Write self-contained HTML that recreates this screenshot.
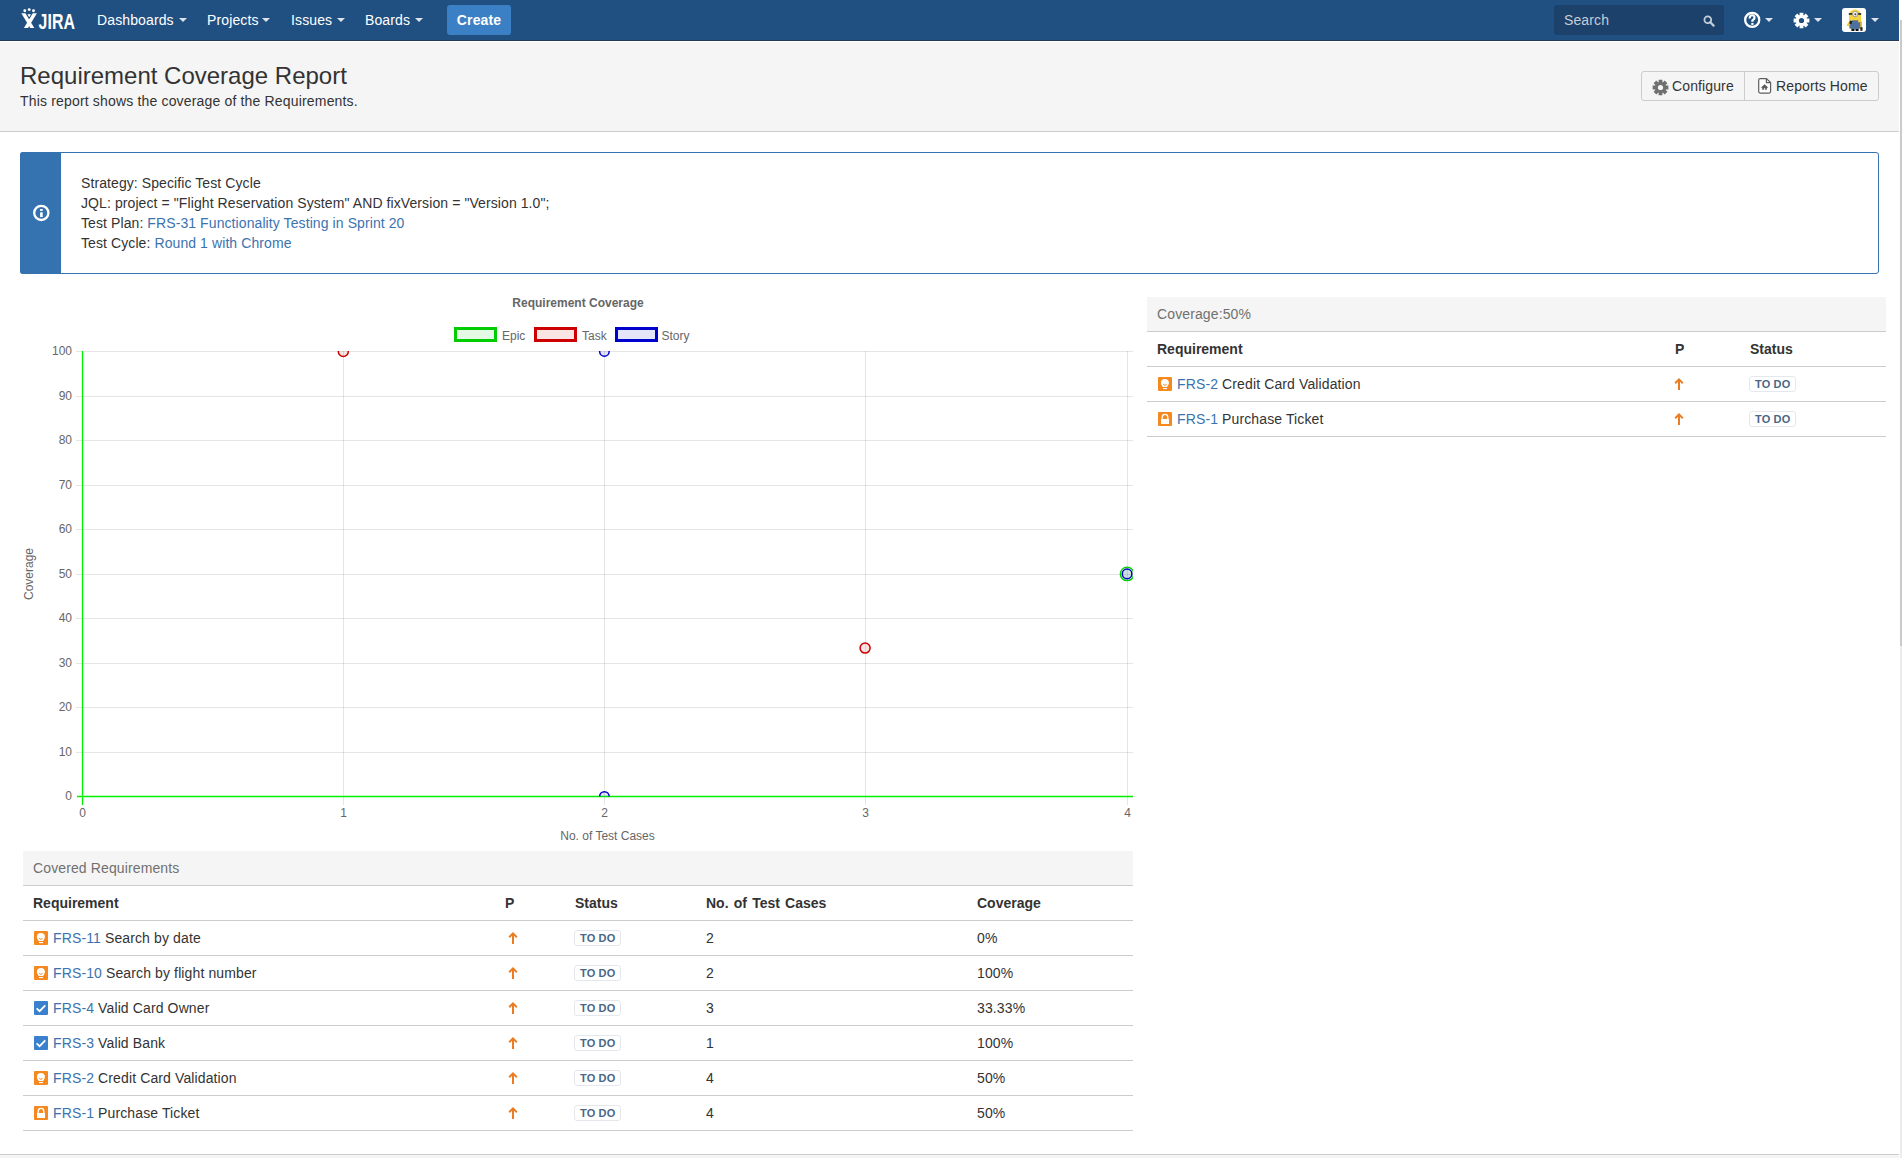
<!DOCTYPE html>
<html><head><meta charset="utf-8"><title>Requirement Coverage Report</title>
<style>
*{box-sizing:border-box;}
html,body{margin:0;padding:0;}
body{width:1902px;height:1158px;overflow:hidden;position:relative;background:#fff;font-family:"Liberation Sans",sans-serif;font-size:14px;line-height:20px;color:#333;letter-spacing:0.12px;}
.abs{position:absolute;}
a{color:#3b73af;text-decoration:none;}
/* header */
#hdr{left:0;top:0;width:1899px;height:40px;background:#205081;}
#hdrline{left:0;top:40px;width:1899px;height:1px;background:#213754;}
.nav{position:absolute;top:10px;color:#fff;font-size:14px;line-height:20px;white-space:nowrap;}
.caret{position:absolute;top:18px;width:0;height:0;border-left:4px solid transparent;border-right:4px solid transparent;border-top:4px solid #dde3ea;}
#create{left:447px;top:5px;width:64px;height:30px;background:#3b7fc4;border-radius:3px;color:#fff;font-weight:bold;font-size:14px;line-height:30px;text-align:center;}
#search{left:1554px;top:5px;width:170px;height:30px;background:#1c416b;border-radius:3px;}
#search span{position:absolute;left:10px;top:5px;color:#c4cdd8;font-size:14px;line-height:20px;}
/* page header */
#phead{left:0;top:42px;width:1899px;height:89px;background:#f5f5f5;}
#pheadline{left:0;top:131px;width:1899px;height:1px;background:#ccc;}
#title{left:20px;top:61px;letter-spacing:0;font-size:24px;line-height:30px;color:#333;white-space:nowrap;}
#subtitle{left:20px;top:91px;letter-spacing:0.17px;font-size:14px;line-height:20px;color:#333;white-space:nowrap;}
#btns{left:1641px;top:71px;width:238px;height:30px;border:1px solid #ccc;border-radius:3px;background:#f5f5f5;}
#btns .div{position:absolute;left:102px;top:0;width:1px;height:28px;background:#ccc;}
#btns .t{position:absolute;top:4px;font-size:14px;line-height:20px;color:#333;white-space:nowrap;}
/* info message */
#msg{left:20px;top:152px;width:1859px;height:122px;border:1px solid #3572b0;border-radius:3px;background:#fff;}
#msgbar{left:20px;top:152px;width:41px;height:122px;background:#3572b0;border-radius:3px 0 0 3px;}
#msgtext{left:81px;top:173px;letter-spacing:0.09px;font-size:14px;line-height:20px;color:#333;white-space:nowrap;}
/* tables */
.panelhead{position:absolute;background:#f5f5f5;border-bottom:1px solid #ccc;height:35px;padding:7px 10px;color:#707070;font-size:14px;line-height:20px;}
table.t{position:absolute;border-collapse:collapse;table-layout:fixed;}
table.t td,table.t th{padding:7px 10px;border-bottom:1px solid #ccc;text-align:left;vertical-align:top;font-size:14px;line-height:20px;height:34px;white-space:nowrap;}
table.t th{font-weight:bold;color:#333;letter-spacing:0;}
.ii{display:inline-block;width:16px;height:16px;vertical-align:text-bottom;}
.loz{display:inline-block;font-size:11px;font-weight:bold;line-height:11px;padding:2px 5px 1px;border:1px solid #e4e8ed;border-radius:3px;color:#4a6785;letter-spacing:0.15px;margin-top:2px;height:16px;position:relative;top:-1px;left:-1px;}
.pr{display:inline-block;width:16px;height:16px;vertical-align:text-bottom;}
#footer{left:0;top:1154px;width:1899px;height:4px;background:#f5f5f5;border-top:1px solid #ccc;}
#sb{left:1899px;top:0;width:3px;height:1158px;background:#fff;}
#sbthumb{left:1900px;top:20px;width:2px;height:626px;background:#cacaca;}
#sbtrack{left:1900px;top:646px;width:2px;height:512px;background:#ececec;}
</style></head><body>
<!-- symbol defs -->
<svg width="0" height="0" style="position:absolute">
  <defs>
    <symbol id="bulb" viewBox="0 0 16 16">
      <rect x="1" y="1" width="14" height="14" rx="1" fill="#f5891f"/>
      <path d="M7.9 2.9 A4 4 0 0 1 11.9 6.9 C11.9 8.4 10.8 9.3 10.2 10.9 L5.6 10.9 C5 9.3 3.9 8.4 3.9 6.9 A4 4 0 0 1 7.9 2.9 Z" fill="#fff"/>
      <path d="M6.2 8.4 Q7.9 10.3 9.6 8.4" fill="none" stroke="#f5891f" stroke-width="1"/>
      <rect x="6" y="12" width="4" height="1.1" fill="#fff"/>
    </symbol>
    <symbol id="bag" viewBox="0 0 16 16">
      <rect x="1" y="1" width="14" height="14" rx="1" fill="#f5891f"/>
      <path d="M5.2 8 L5.2 6.2 A2.8 2.8 0 0 1 10.8 6.2 L10.8 8" fill="none" stroke="#fff" stroke-width="1.3"/>
      <rect x="4" y="8" width="8" height="5" fill="#fff"/>
    </symbol>
    <symbol id="check" viewBox="0 0 16 16">
      <rect x="1" y="1" width="14" height="14" rx="1" fill="#3b80cc"/>
      <path d="M3.6 8.3 L6.6 11.2 L12.3 5.4" fill="none" stroke="#fff" stroke-width="1.7"/>
    </symbol>
    <symbol id="arrow" viewBox="0 0 16 16">
      <path d="M4.2 7.2 L8 3.4 L11.8 7.2" fill="none" stroke="#ea7d24" stroke-width="2" stroke-linecap="butt" stroke-linejoin="miter"/>
      <path d="M8 3.6 L8 14" stroke="#ea7d24" stroke-width="2"/>
    </symbol>
  </defs>
</svg>


<!-- HEADER -->
<div id="hdr" class="abs"></div>
<div id="hdrline" class="abs"></div>
<svg class="abs" style="left:0;top:0" width="80" height="40" viewBox="0 0 80 40">
  <circle cx="24.8" cy="10.8" r="1.45" fill="#fff"/>
  <circle cx="29.2" cy="9.6" r="1.45" fill="#fff"/>
  <circle cx="33.5" cy="10.8" r="1.45" fill="#fff"/>
  <path d="M21.3 13.2 L25.4 13.2 L34.3 28 L30.3 28 Z" fill="#fff"/>
  <path d="M32.8 13.2 L36.9 13.2 L28 28 L23.9 28 Z" fill="#fff"/>
  <path d="M27.4 14.2 L31 14.2 L29.2 17.3 Z" fill="#fff"/>
  <text x="38.5" y="28.6" font-family="Liberation Sans" font-weight="bold" font-size="22" fill="#fff" textLength="36.5" lengthAdjust="spacingAndGlyphs">JIRA</text>
</svg>
<div class="nav" style="left:97px">Dashboards</div><div class="caret" style="left:179px"></div>
<div class="nav" style="left:207px">Projects</div><div class="caret" style="left:262px"></div>
<div class="nav" style="left:291px">Issues</div><div class="caret" style="left:337px"></div>
<div class="nav" style="left:365px">Boards</div><div class="caret" style="left:415px"></div>
<div id="create" class="abs">Create</div>
<div id="search" class="abs"><span>Search</span>
  <svg style="position:absolute;left:149px;top:10px" width="12" height="12" viewBox="0 0 12 12"><circle cx="4.8" cy="4.8" r="3.4" fill="none" stroke="#c4cdd8" stroke-width="1.8"/><path d="M7.3 7.3 L10.6 10.6" stroke="#c4cdd8" stroke-width="2.2" stroke-linecap="round"/></svg>
</div>
<!-- help -->
<svg class="abs" style="left:1742px;top:10px" width="20" height="20" viewBox="-10.2 -9.9 20 20"><circle cx="0" cy="0" r="7.05" fill="none" stroke="#fff" stroke-width="2.3"/><path d="M-2.3 -1.4 A2.4 2.4 0 1 1 2.0 -1.0 L0.2 0.6 L0.2 1.9" fill="none" stroke="#fff" stroke-width="2.2"/><rect x="-0.9" y="3.0" width="2.2" height="2.0" fill="#fff"/></svg>
<div class="caret" style="left:1765px"></div>
<!-- gear -->
<svg class="abs" style="left:1792px;top:10.5px" width="19" height="19" viewBox="-9.5 -9.5 19 19"><path fill="#fff" fill-rule="evenodd" d="M-1.90 -5.37 L-1.90 -7.87 L1.90 -7.87 L1.90 -5.37 L2.46 -5.14 L4.22 -6.91 L6.91 -4.22 L5.14 -2.46 L5.37 -1.90 L7.87 -1.90 L7.87 1.90 L5.37 1.90 L5.14 2.46 L6.91 4.22 L4.22 6.91 L2.46 5.14 L1.90 5.37 L1.90 7.87 L-1.90 7.87 L-1.90 5.37 L-2.46 5.14 L-4.22 6.91 L-6.91 4.22 L-5.14 2.46 L-5.37 1.90 L-7.87 1.90 L-7.87 -1.90 L-5.37 -1.90 L-5.14 -2.46 L-6.91 -4.22 L-4.22 -6.91 L-2.46 -5.14 Z M2.60 0 A2.60 2.60 0 1 0 -2.60 0 A2.60 2.60 0 1 0 2.60 0 Z"/></svg>
<div class="caret" style="left:1814px"></div>
<!-- avatar -->
<div class="abs" style="left:1842px;top:8px;width:24px;height:24px;background:#fff;border-radius:3px;overflow:hidden">
  <svg width="24" height="24" viewBox="0 0 24 24">
    <path d="M7 21 L7 7.6 A6 6.2 0 0 1 19 7.6 L19 21 Z" fill="#f5d33c"/>
    <path d="M7.6 14.2 L18.6 14.2 L18.6 20 Q13 23.2 7.6 20 Z" fill="#4d709c"/>
    <rect x="9.8" y="12.3" width="6.4" height="2.5" fill="#4d709c"/>
    <rect x="6.8" y="5.1" width="12.4" height="1.7" fill="#2a2a2a"/>
    <circle cx="13.2" cy="6.1" r="3.1" fill="#a9a9a9"/>
    <circle cx="13.2" cy="6.1" r="2" fill="#fff"/>
    <circle cx="13.4" cy="6.3" r="1" fill="#5b3a20"/>
    <path d="M7.2 13.2 L4.6 17.2 L6.2 18.6 L8.6 15.2 Z" fill="#f2c832"/>
    <path d="M8 12.4 L10.4 13.2 L9.4 16.2 L7.2 15.4 Z" fill="#222"/>
    <rect x="18.4" y="13.4" width="1.6" height="6" fill="#e9b92b"/>
    <rect x="18.3" y="19.2" width="2.2" height="3.6" fill="#222"/>
    <rect x="9.4" y="21" width="3" height="2" fill="#111"/>
    <rect x="13.6" y="21" width="3" height="2" fill="#111"/>
  </svg>
</div>
<div class="caret" style="left:1871px"></div>

<!-- PAGE HEADER -->
<div id="phead" class="abs" style="background:#f5f5f5"></div>
<div class="abs" style="left:0;top:41px;width:1899px;height:1px;background:#fff"></div>
<div id="pheadline" class="abs"></div>
<div id="title" class="abs">Requirement Coverage Report</div>
<div id="subtitle" class="abs">This report shows the coverage of the Requirements.</div>
<div id="btns" class="abs">
  <svg style="position:absolute;left:8.5px;top:5.5px" width="19" height="19" viewBox="-9.5 -9.5 19 19"><path fill="#707070" fill-rule="evenodd" d="M-1.90 -5.37 L-1.90 -7.87 L1.90 -7.87 L1.90 -5.37 L2.46 -5.14 L4.22 -6.91 L6.91 -4.22 L5.14 -2.46 L5.37 -1.90 L7.87 -1.90 L7.87 1.90 L5.37 1.90 L5.14 2.46 L6.91 4.22 L4.22 6.91 L2.46 5.14 L1.90 5.37 L1.90 7.87 L-1.90 7.87 L-1.90 5.37 L-2.46 5.14 L-4.22 6.91 L-6.91 4.22 L-5.14 2.46 L-5.37 1.90 L-7.87 1.90 L-7.87 -1.90 L-5.37 -1.90 L-5.14 -2.46 L-6.91 -4.22 L-4.22 -6.91 L-2.46 -5.14 Z M2.60 0 A2.60 2.60 0 1 0 -2.60 0 A2.60 2.60 0 1 0 2.60 0 Z"/></svg>
  <span class="t" style="left:30px">Configure</span>
  <div class="div"></div>
  <svg style="position:absolute;left:115px;top:5px" width="16" height="18" viewBox="0 0 16 18"><path d="M3.2 1.6 L9.4 1.6 L13.6 5.6 L13.6 14.6 Q13.6 16.1 12.1 16.1 L3.2 16.1 Q1.7 16.1 1.7 14.6 L1.7 3.1 Q1.7 1.6 3.2 1.6 Z" fill="#fff" stroke="#5e5e5e" stroke-width="1.2"/><path d="M9.4 1.6 L9.4 5.6 L13.6 5.6" fill="none" stroke="#5e5e5e" stroke-width="1.2"/><path d="M7.6 7.2 L11.4 10.8 L9.9 10.8 L9.9 12.8 L5.2 12.8 L5.2 10.8 L3.8 10.8 Z" fill="#5e5e5e"/><rect x="6.9" y="11.2" width="1.3" height="1.6" fill="#fff"/></svg>
  <span class="t" style="left:134px">Reports Home</span>
</div>

<!-- INFO MESSAGE -->
<div id="msg" class="abs"></div>
<div id="msgbar" class="abs"></div>
<svg class="abs" style="left:31px;top:203px" width="20" height="20" viewBox="-10.3 -9.9 20 20"><circle cx="0" cy="0" r="7.1" fill="none" stroke="#fff" stroke-width="2.3"/><rect x="-1.2" y="-3.9" width="2.6" height="1.9" fill="#fff"/><rect x="-1.2" y="-0.6" width="2.6" height="4.7" fill="#fff"/></svg>
<div id="msgtext" class="abs">Strategy: Specific Test Cycle<br>JQL: project = "Flight Reservation System" AND fixVersion = "Version 1.0";<br>Test Plan: <a>FRS-31 Functionality Testing in Sprint 20</a><br>Test Cycle: <a>Round 1 with Chrome</a></div>

<!-- CHART -->
<svg class="abs" style="left:0;top:285px;letter-spacing:0" width="1140" height="565" viewBox="0 285 1140 565" font-family="Liberation Sans">
  <defs><clipPath id="ca"><rect x="82" y="351" width="1051" height="445.5"/></clipPath></defs>
  <text x="578" y="307" text-anchor="middle" font-size="12" font-weight="bold" fill="#666">Requirement Coverage</text>
  <!-- legend -->
  <rect x="455.5" y="328.5" width="40" height="12" fill="rgba(0,204,0,0.1)" stroke="#00cc00" stroke-width="3"/>
  <text x="502" y="340" font-size="12" fill="#666">Epic</text>
  <rect x="535.5" y="328.5" width="40" height="12" fill="rgba(204,0,0,0.1)" stroke="#cc0000" stroke-width="3"/>
  <text x="582" y="340" font-size="12" fill="#666">Task</text>
  <rect x="616.5" y="328.5" width="40" height="12" fill="rgba(0,0,204,0.1)" stroke="#0000cc" stroke-width="3"/>
  <text x="661.5" y="340" font-size="12" fill="#666">Story</text>
  <g stroke="rgba(0,0,0,0.1)" stroke-width="1" fill="none">
  <line x1="76" x2="1133" y1="752.5" y2="752.5"/>
  <line x1="76" x2="1133" y1="707.5" y2="707.5"/>
  <line x1="76" x2="1133" y1="663.5" y2="663.5"/>
  <line x1="76" x2="1133" y1="618.5" y2="618.5"/>
  <line x1="76" x2="1133" y1="574.5" y2="574.5"/>
  <line x1="76" x2="1133" y1="529.5" y2="529.5"/>
  <line x1="76" x2="1133" y1="485.5" y2="485.5"/>
  <line x1="76" x2="1133" y1="440.5" y2="440.5"/>
  <line x1="76" x2="1133" y1="396.5" y2="396.5"/>
  <line x1="76" x2="1133" y1="351.5" y2="351.5"/>
  <line x1="343.5" x2="343.5" y1="351" y2="805"/>
  <line x1="604.5" x2="604.5" y1="351" y2="805"/>
  <line x1="865.5" x2="865.5" y1="351" y2="805"/>
  <line x1="1127.5" x2="1127.5" y1="351" y2="805"/>
  </g>
  <g font-size="12" fill="#666" text-anchor="end">
  <text x="72" y="800.4">0</text>
  <text x="72" y="755.9">10</text>
  <text x="72" y="711.4">20</text>
  <text x="72" y="666.9">30</text>
  <text x="72" y="622.4">40</text>
  <text x="72" y="577.9">50</text>
  <text x="72" y="533.4">60</text>
  <text x="72" y="488.9">70</text>
  <text x="72" y="444.4">80</text>
  <text x="72" y="399.9">90</text>
  <text x="72" y="355.4">100</text>
  </g><g font-size="12" fill="#666" text-anchor="middle">
  <text x="82.7" y="817.3">0</text>
  <text x="343.7" y="817.3">1</text>
  <text x="604.7" y="817.3">2</text>
  <text x="865.7" y="817.3">3</text>
  <text x="1127.7" y="817.3">4</text>
  </g>
  <text x="607.5" y="840" text-anchor="middle" font-size="12" fill="#666">No. of Test Cases</text>
  <text transform="translate(33 574) rotate(-90)" text-anchor="middle" font-size="12" fill="#666">Coverage</text>
  <line x1="82.5" x2="82.5" y1="351" y2="805" stroke="#00f000" stroke-width="1.3"/>
  <line x1="77" x2="1133" y1="796.5" y2="796.5" stroke="#00f000" stroke-width="1.3"/>
  <g clip-path="url(#ca)">
  <circle cx="1127.10" cy="573.90" r="6.75" fill="rgba(0,204,0,0.1)" stroke="rgb(0,204,0)" stroke-width="1.4"/>
  <circle cx="343.30" cy="351.40" r="5.00" fill="rgba(204,0,0,0.1)" stroke="rgb(204,0,0)" stroke-width="1.5"/>
  <circle cx="865.10" cy="648.07" r="5.00" fill="rgba(204,0,0,0.1)" stroke="rgb(204,0,0)" stroke-width="1.5"/>
  <circle cx="604.40" cy="351.40" r="4.75" fill="rgba(0,0,204,0.1)" stroke="rgb(0,0,204)" stroke-width="1.5"/>
  <circle cx="604.40" cy="796.40" r="4.75" fill="rgba(0,0,204,0.1)" stroke="rgb(0,0,204)" stroke-width="1.5"/>
  <circle cx="1127.10" cy="573.90" r="4.80" fill="rgba(0,0,204,0.1)" stroke="rgb(0,0,204)" stroke-width="1.5"/>
  </g>
</svg>

<!-- RIGHT PANEL -->
<div class="panelhead" style="left:1147px;top:297px;width:739px">Coverage:50%</div>
<table class="t" style="left:1147px;top:332px;width:739px">
<colgroup><col style="width:518px"><col style="width:75px"><col style="width:146px"></colgroup>
<tr><th>Requirement</th><th>P</th><th>Status</th></tr>
<tr><td><svg class="ii"><use href="#bulb"/></svg> <a>FRS-2</a> Credit Card Validation</td><td><svg class="pr" style="margin-left:-4px"><use href="#arrow"/></svg></td><td><span class="loz">TO DO</span></td></tr>
<tr><td><svg class="ii"><use href="#bag"/></svg> <a>FRS-1</a> Purchase Ticket</td><td><svg class="pr" style="margin-left:-4px"><use href="#arrow"/></svg></td><td><span class="loz">TO DO</span></td></tr>
</table>

<!-- BOTTOM TABLE -->
<div class="panelhead" style="left:23px;top:851px;width:1110px">Covered Requirements</div>
<table class="t" style="left:23px;top:886px;width:1110px">
<colgroup><col style="width:472px"><col style="width:70px"><col style="width:131px"><col style="width:271px"><col style="width:166px"></colgroup>
<tr><th>Requirement</th><th>P</th><th>Status</th><th style="word-spacing:1.3px">No. of Test Cases</th><th>Coverage</th></tr>
<tr><td><svg class="ii"><use href="#bulb"/></svg> <a>FRS-11</a> Search by date</td><td><svg class="pr"><use href="#arrow"/></svg></td><td><span class="loz">TO DO</span></td><td>2</td><td>0%</td></tr>
<tr><td><svg class="ii"><use href="#bulb"/></svg> <a>FRS-10</a> Search by flight number</td><td><svg class="pr"><use href="#arrow"/></svg></td><td><span class="loz">TO DO</span></td><td>2</td><td>100%</td></tr>
<tr><td><svg class="ii"><use href="#check"/></svg> <a>FRS-4</a> Valid Card Owner</td><td><svg class="pr"><use href="#arrow"/></svg></td><td><span class="loz">TO DO</span></td><td>3</td><td>33.33%</td></tr>
<tr><td><svg class="ii"><use href="#check"/></svg> <a>FRS-3</a> Valid Bank</td><td><svg class="pr"><use href="#arrow"/></svg></td><td><span class="loz">TO DO</span></td><td>1</td><td>100%</td></tr>
<tr><td><svg class="ii"><use href="#bulb"/></svg> <a>FRS-2</a> Credit Card Validation</td><td><svg class="pr"><use href="#arrow"/></svg></td><td><span class="loz">TO DO</span></td><td>4</td><td>50%</td></tr>
<tr><td><svg class="ii"><use href="#bag"/></svg> <a>FRS-1</a> Purchase Ticket</td><td><svg class="pr"><use href="#arrow"/></svg></td><td><span class="loz">TO DO</span></td><td>4</td><td>50%</td></tr>
</table>

<div id="footer" class="abs"></div>
<div id="sb" class="abs"></div>
<div id="sbthumb" class="abs"></div>
<div id="sbtrack" class="abs"></div>



</body></html>
